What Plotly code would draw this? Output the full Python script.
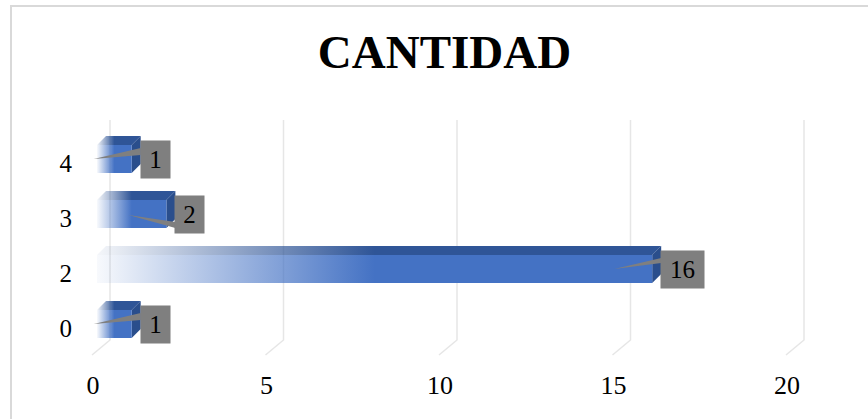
import plotly.graph_objects as go

# ---------------- data ----------------
categories = ["0", "2", "3", "4"]
values = [1, 16, 2, 1]
x_ticks = [0, 5, 10, 15, 20]
title_text = "CANTIDAD"

# ---------------- geometry / style ----------------
W, H = 868, 419
PX_PER_X = 34.7          # pixels per x unit
PX_PER_CAT = 55.0        # pixels per category step
X0_PX = 93               # pixel column of x = 0 (front floor edge)
CAT0_PX = 328            # pixel row of first category tick
PLOT_L, PLOT_R, PLOT_T, PLOT_B = 78, 840, 100, 365

FONT = "Liberation Serif"
FRONT = "#4472C4"
TOP = "#2F5597"
SIDE = "#2A4E8C"
GRID = "#E6E6E6"
LABEL_BG = "#7F7F7F"

xr = [(PLOT_L - X0_PX) / PX_PER_X, (PLOT_R - X0_PX) / PX_PER_X]
yr = [(CAT0_PX - PLOT_B) / PX_PER_CAT, (CAT0_PX - PLOT_T) / PX_PER_CAT]

bar_start = 4 / PX_PER_X              # bars sit slightly behind the front floor edge
yc = 4 / PX_PER_CAT                   # front face centre offset above the tick
half_h = 14 / PX_PER_CAT              # half height of the front face
dx = 9 / PX_PER_X                     # 3D depth, x
dy = 9 / PX_PER_CAT                   # 3D depth, y
fade = 0.5                            # fraction of bar length for the gradient

# callout wedge base (pixels, relative to label box centre; y up)
callout_base = [(4, 11), (6, 11), (-14, -8), (4, 11)]
callout_tip_dy = [0, 0, -1, 0]

fig = go.Figure()

for i, v in enumerate(values):
    y_mid = i + yc
    y_bot = y_mid - half_h
    y_top = y_mid + half_h
    x_a = bar_start
    x_b = bar_start + v
    g_start, g_stop = x_a, x_a + v * fade

    # top face
    fig.add_trace(go.Scatter(
        x=[x_a, x_b, x_b + dx, x_a + dx, x_a],
        y=[y_top, y_top, y_top + dy, y_top + dy, y_top],
        mode="lines", line=dict(width=0), fill="toself",
        fillgradient=dict(type="horizontal", start=g_start, stop=g_stop,
                          colorscale=[[0, "rgba(47,85,151,0.05)"], [1, TOP]]),
        hoverinfo="skip", showlegend=False))
    # side face
    fig.add_trace(go.Scatter(
        x=[x_b, x_b + dx, x_b + dx, x_b, x_b],
        y=[y_bot, y_bot + dy, y_top + dy, y_top, y_bot],
        mode="lines", line=dict(width=0), fill="toself", fillcolor=SIDE,
        hoverinfo="skip", showlegend=False))
    # front face
    fig.add_trace(go.Scatter(
        x=[x_a, x_b, x_b, x_a, x_a],
        y=[y_bot, y_bot, y_top, y_top, y_bot],
        mode="lines", line=dict(width=0), fill="toself",
        fillgradient=dict(type="horizontal", start=g_start, stop=g_stop,
                          colorscale=[[0, "rgba(68,114,196,0.04)"], [1, FRONT]]),
        hoverinfo="skip", showlegend=False))

shapes = []
# 3D gridlines: back wall vertical + floor diagonal
for t in x_ticks:
    shapes.append(dict(
        type="path", layer="below",
        xref="x", xsizemode="pixel", xanchor=t,
        yref="paper", ysizemode="pixel", yanchor=0,
        path="M 17,245 L 17,25 L -1,10",
        line=dict(color=GRID, width=1.5)))

annotations = []
for i, v in enumerate(values):
    txt = str(v)
    box_w = 14 * len(txt) + 15
    annotations.append(dict(
        x=bar_start + v, y=i + yc, xref="x", yref="y",
        xanchor="left", yanchor="middle", xshift=8,
        text=txt, showarrow=False, width=box_w, height=37,
        bgcolor=LABEL_BG, borderpad=0, align="center", valign="middle",
        font=dict(family=FONT, size=25, color="black")))
    b0, b1 = callout_base[i]
    shapes.append(dict(
        type="path", layer="above",
        xref="x", xsizemode="pixel", xanchor=bar_start + v,
        yref="y", ysizemode="pixel", yanchor=i + yc,
        path=f"M 9,{b0} L -38,{callout_tip_dy[i]} L 9,{b1} Z",
        fillcolor=LABEL_BG, line=dict(width=0)))

# outer chart border (only left/top edges fall inside the picture)
shapes.append(dict(
    type="rect", xref="paper", yref="paper", layer="below",
    x0=(11 - PLOT_L) / (PLOT_R - PLOT_L), x1=(900 - PLOT_L) / (PLOT_R - PLOT_L),
    y0=(PLOT_B - 440) / (PLOT_B - PLOT_T), y1=(PLOT_B - 6) / (PLOT_B - PLOT_T),
    line=dict(color="#D9D9D9", width=2), fillcolor="rgba(0,0,0,0)"))

fig.update_layout(
    width=W, height=H,
    margin=dict(l=PLOT_L, r=W - PLOT_R, t=PLOT_T, b=H - PLOT_B),
    paper_bgcolor="white", plot_bgcolor="white",
    title=dict(text=f"<b>{title_text}</b>", x=444.5 / W, xanchor="center",
               y=1 - 52 / H, yanchor="middle",
               font=dict(family=FONT, size=47, color="black")),
    xaxis=dict(range=xr, tickvals=x_ticks, showgrid=False, zeroline=False,
               showline=False, ticks="", ticklabelstandoff=2,
               tickfont=dict(family=FONT, size=26, color="black")),
    yaxis=dict(range=yr, tickvals=list(range(len(categories))),
               ticktext=categories, showgrid=False, zeroline=False,
               showline=False, ticks="", ticklabelstandoff=5,
               tickfont=dict(family=FONT, size=25, color="black")),
    shapes=shapes, annotations=annotations, showlegend=False,
)

fig.write_html(
    "out.html",
    config={"displayModeBar": False},
    post_script="document.body.style.margin='0';document.body.style.overflow='hidden';",
)
